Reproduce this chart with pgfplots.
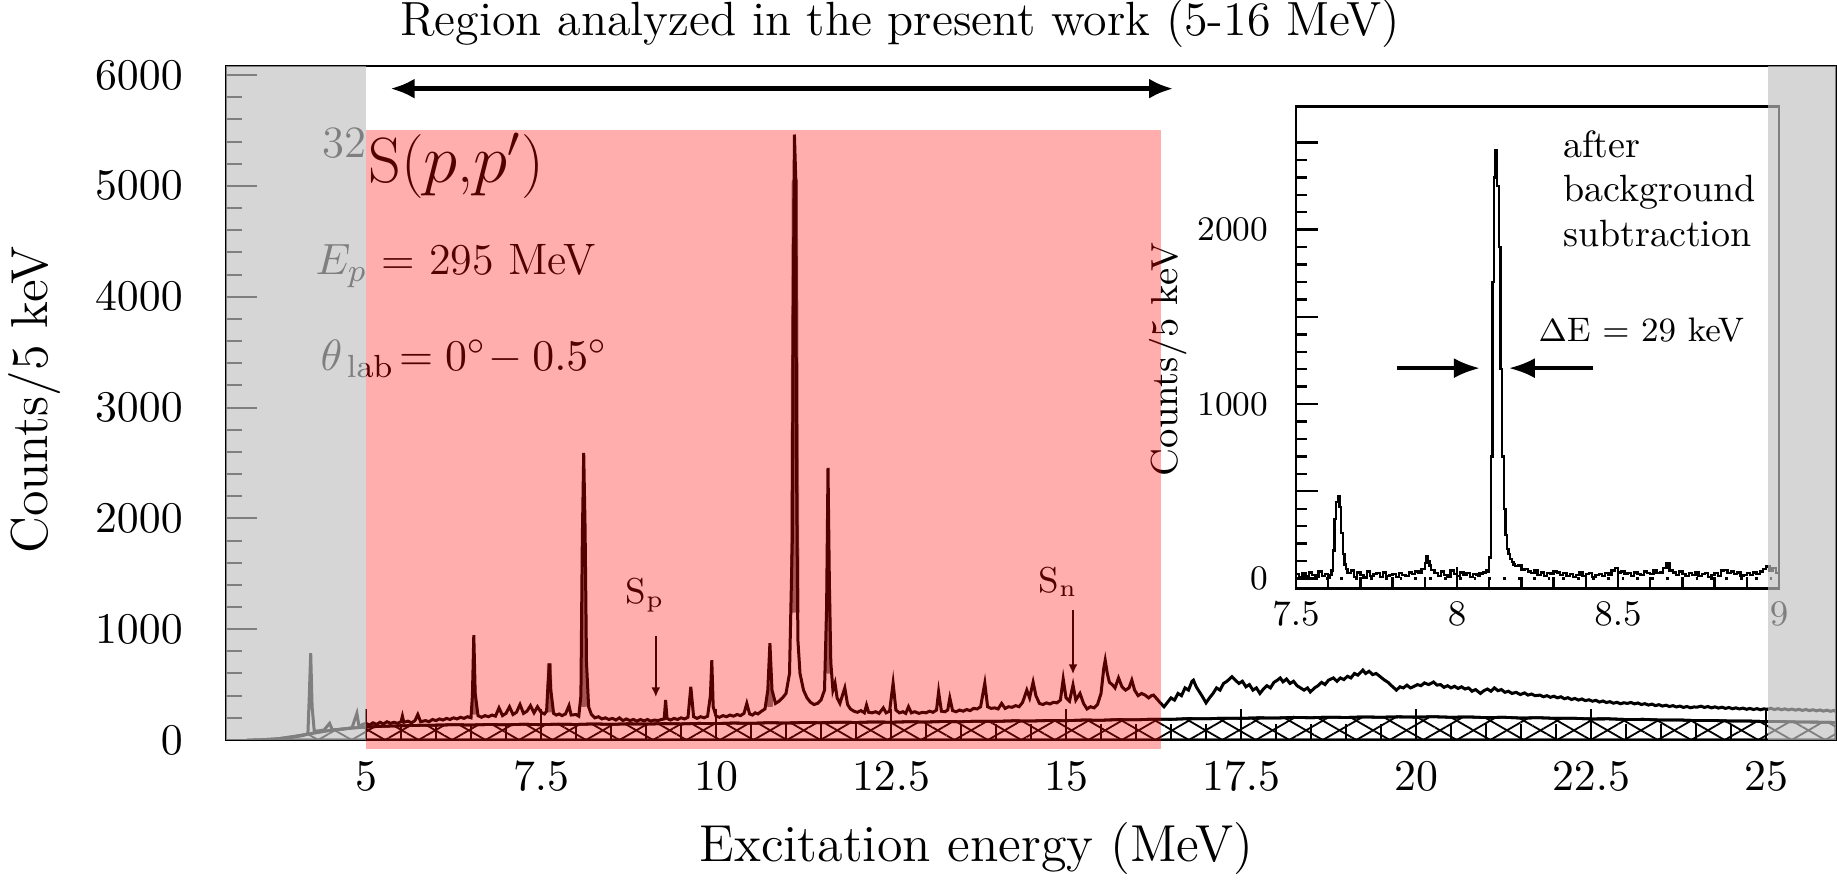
\documentclass[border=0pt]{standalone}
\usepackage{pgfplots}
\pgfplotsset{compat=1.18}
\usetikzlibrary{patterns.meta,arrows.meta}
\definecolor{ovgray}{RGB}{193,193,193}
\definecolor{midgray}{RGB}{125,125,125}
\begin{document}
\begin{tikzpicture}
\begin{axis}[
  at={(0pt,0pt)}, anchor=south west,
  scale only axis, width=402.5pt, height=168.6pt,
  xmin=3, xmax=26, ymin=0, ymax=6085,
  axis line style={line width=0.5pt},
  xtick={5,7.5,10,12.5,15,17.5,20,22.5,25}, minor x tick num=4,
  ytick={0,1000,2000,3000,4000,5000,6000}, minor y tick num=4,
  tick pos=left, tick align=inside,
  major tick length=7.7pt, minor tick length=3.9pt,
  tick style={black, line width=0.5pt},
  xticklabel style={font=\fontsize{11}{13}\selectfont, yshift=-2pt},
  yticklabel style={font=\fontsize{11}{13}\selectfont, xshift=-7.3pt},
  /pgf/number format/1000 sep={},
]
% hatched background
\addplot[draw=black, line width=0.7pt,
  pattern={Lines[angle=30,distance=4.186pt,line width=0.45pt]},
  postaction={pattern={Lines[angle=-30,distance=4.186pt,line width=0.45pt]}}] coordinates {
(3.3,0)(3.5,2)(3.75,12)(4.0,35)(4.25,62)(4.5,88)(4.75,105)(5.0,117)(5.25,124)(5.5,128)(5.75,132)(6.0,134)(6.25,138)(6.5,135)(6.75,140)(7.0,137)(7.25,142)(7.5,138)(7.75,143)(8.0,140)(8.25,145)(8.5,141)(8.75,146)(9.0,143)(9.25,148)(9.5,145)(9.75,150)(10.0,148)(10.25,153)(10.5,150)(10.75,156)(11.0,153)(11.25,158)(11.5,156)(11.75,161)(12.0,158)(12.25,163)(12.5,160)(12.75,165)(13.0,162)(13.25,167)(13.5,165)(13.75,170)(14.0,168)(14.25,173)(14.5,171)(14.75,176)(15.0,174)(15.25,180)(15.5,178)(15.75,184)(16.0,182)(16.25,188)(16.5,186)(16.75,193)(17.0,191)(17.25,197)(17.5,195)(17.75,200)(18.0,198)(18.25,204)(18.5,201)(18.75,206)(19.0,203)(19.25,208)(19.5,205)(19.75,209)(20.0,206)(20.25,210)(20.5,205)(20.75,208)(21.0,202)(21.25,205)(21.5,198)(21.75,201)(22.0,195)(22.25,196)(22.5,190)(22.75,191)(23.0,185)(23.25,186)(23.5,180)(23.75,181)(24.0,175)(24.25,176)(24.5,171)(24.75,171)(25.0,166)(25.25,166)(25.5,162)(25.75,161)(26.0,158)
} \closedcycle;
% coarse (wide) peak bodies
\addplot[midgray, line width=1.2pt] coordinates {(6.53,230)(6.54,480)(6.55,230)};
\addplot[midgray, line width=1.2pt] coordinates {(7.61,250)(7.62,690)(7.63,250)};
\addplot[midgray, line width=1.2pt] coordinates {(8.095,300)(8.11,1700)(8.125,300)};
\addplot[midgray, line width=1.2pt] coordinates {(10.76,300)(10.77,500)(10.78,300)};
\addplot[midgray, line width=1.5pt] coordinates {(11.1,1150)(11.125,5054)(11.15,1150)};
\addplot[midgray, line width=1.2pt] coordinates {(11.59,600)(11.605,1500)(11.62,600)};
% spectrum
\addplot[black, line width=0.75pt] coordinates {
(3.5,0)(3.6,0)(3.7,2)(3.8,8)(3.9,20)(4.0,30)(4.1,40)(4.17,55)(4.19,400)(4.21,784)(4.23,300)(4.26,85)(4.3,80)(4.4,90)(4.48,150)(4.52,90)(4.6,95)(4.7,100)(4.8,110)(4.87,240)(4.9,120)(4.95,140)
(5.0,150)(5.05,135)(5.1,155)(5.15,140)(5.2,160)(5.25,145)(5.3,165)(5.35,150)(5.4,160)(5.45,150)(5.5,165)(5.52,215)(5.54,160)(5.6,170)(5.65,155)(5.7,175)(5.74,230)(5.78,165)(5.85,175)(5.9,165)(5.95,185)(6.0,175)(6.05,190)(6.1,180)(6.15,195)(6.2,185)(6.25,200)(6.3,190)(6.35,205)(6.4,195)(6.45,210)(6.5,200)(6.52,400)(6.54,946)(6.56,420)(6.6,220)(6.65,205)(6.7,220)(6.75,210)(6.8,225)(6.85,215)(6.9,290)(6.95,220)(7.0,240)(7.05,300)(7.1,230)(7.15,250)(7.2,320)(7.25,240)(7.3,260)(7.35,310)(7.4,245)(7.45,300)(7.5,250)(7.55,235)(7.58,260)(7.6,500)(7.62,690)(7.64,450)(7.68,240)(7.72,225)(7.76,235)(7.8,220)(7.85,235)(7.9,310)(7.93,225)(8.0,230)(8.04,215)(8.07,400)(8.09,1800)(8.11,2590)(8.13,1900)(8.15,700)(8.18,300)(8.22,230)(8.27,200)(8.32,210)(8.37,190)(8.42,200)(8.47,185)(8.52,195)(8.57,180)(8.62,200)(8.67,175)(8.72,190)(8.77,175)(8.82,185)(8.87,170)(8.92,185)(8.97,172)(9.02,185)(9.07,170)(9.12,180)(9.17,175)(9.22,185)(9.26,190)(9.28,360)(9.3,195)(9.35,180)(9.4,195)(9.45,185)(9.5,200)(9.55,190)(9.6,205)(9.64,480)(9.68,210)(9.73,195)(9.78,210)(9.83,200)(9.88,215)(9.92,400)(9.94,720)(9.96,300)(10.0,215)(10.05,205)(10.1,220)(10.15,210)(10.2,225)(10.25,215)(10.3,230)(10.35,220)(10.4,240)(10.44,330)(10.48,235)(10.52,225)(10.56,245)(10.6,235)(10.65,260)(10.7,280)(10.74,450)(10.77,874)(10.8,450)(10.85,330)(10.9,350)(10.95,380)(11.0,420)(11.05,600)(11.09,1800)(11.1,3500)(11.12,5463)(11.14,5054)(11.15,2500)(11.17,900)(11.2,600)(11.25,450)(11.3,380)(11.35,340)(11.4,320)(11.45,330)(11.5,360)(11.55,450)(11.58,1200)(11.6,2455)(11.62,1400)(11.64,700)(11.67,450)(11.7,513)(11.73,380)(11.77,330)(11.84,470)(11.88,320)(11.92,280)(11.97,260)(12.02,250)(12.07,265)(12.12,245)(12.15,315)(12.18,250)(12.23,245)(12.28,255)(12.33,240)(12.39,290)(12.43,245)(12.48,260)(12.53,513)(12.57,270)(12.62,245)(12.67,255)(12.71,240)(12.75,300)(12.79,245)(12.84,255)(12.9,240)(12.95,250)(13.0,245)(13.05,260)(13.1,250)(13.15,270)(13.18,435)(13.22,260)(13.27,255)(13.31,270)(13.34,380)(13.38,265)(13.43,255)(13.48,270)(13.53,260)(13.58,275)(13.63,265)(13.68,285)(13.73,280)(13.78,300)(13.84,513)(13.88,300)(13.93,285)(13.98,290)(14.03,280)(14.08,330)(14.13,285)(14.18,300)(14.23,295)(14.28,310)(14.33,300)(14.38,340)(14.44,450)(14.48,380)(14.53,522)(14.57,400)(14.62,330)(14.67,320)(14.72,335)(14.77,325)(14.82,340)(14.87,335)(14.92,360)(14.96,550)(15.0,380)(15.05,350)(15.1,496)(15.14,360)(15.2,420)(15.25,330)(15.3,280)(15.35,300)(15.4,290)(15.45,320)(15.5,420)(15.54,650)(15.56,720)(15.59,600)(15.62,520)(15.66,500)(15.7,470)(15.75,560)(15.8,480)(15.85,450)(15.9,470)(15.94,540)(15.98,450)(16.03,400)(16.08,420)(16.13,405)(16.18,380)(16.22,400)(16.25,405)(16.3,370)(16.34,340)
(16.4,300)(16.45,340)(16.5,380)(16.55,360)(16.6,420)(16.65,400)(16.7,470)(16.75,450)(16.8,530)(16.82,540)(16.86,480)(16.9,440)(16.95,390)(17.0,335)(17.05,380)(17.1,420)(17.15,470)(17.2,450)(17.25,510)(17.3,530)(17.37,571)(17.42,540)(17.47,510)(17.52,530)(17.57,480)(17.62,500)(17.67,450)(17.72,470)(17.77,420)(17.82,460)(17.87,490)(17.92,470)(17.97,520)(18.02,540)(18.06,560)(18.1,525)(18.15,550)(18.2,510)(18.25,530)(18.3,490)(18.35,470)(18.4,450)(18.45,470)(18.49,433)(18.55,470)(18.6,490)(18.65,520)(18.7,500)(18.75,540)(18.82,560)(18.87,530)(18.92,560)(18.97,545)(19.02,575)(19.07,560)(19.12,600)(19.17,585)(19.24,631)(19.28,600)(19.33,620)(19.38,590)(19.43,600)(19.49,571)(19.54,545)(19.6,520)(19.65,490)(19.72,450)(19.77,480)(19.82,470)(19.87,495)(19.92,470)(19.96,480)(20.02,500)(20.07,490)(20.12,515)(20.18,500)(20.25,523)(20.3,495)(20.35,500)(20.4,475)(20.45,490)(20.5,470)(20.55,485)(20.6,465)(20.65,480)(20.7,460)(20.75,470)(20.8,440)(20.85,455)(20.92,420)(20.97,445)(21.02,460)(21.07,440)(21.12,470)(21.17,445)(21.22,455)(21.27,430)(21.32,440)(21.37,420)(21.43,430)(21.49,410)(21.55,425)(21.6,405)(21.65,415)(21.7,400)(21.77,405)(21.82,390)(21.87,400)(21.92,385)(21.97,395)(22.02,380)(22.07,390)(22.12,372)(22.17,382)(22.22,365)(22.27,375)(22.32,360)(22.37,370)(22.42,355)(22.47,363)(22.52,350)(22.57,358)(22.62,342)(22.67,352)(22.72,338)(22.77,346)(22.82,332)(22.87,340)(22.92,327)(22.97,336)(23.02,330)(23.07,339)(23.12,326)(23.17,334)(23.22,320)(23.27,328)(23.32,315)(23.37,324)(23.42,310)(23.47,319)(23.52,306)(23.57,314)(23.62,302)(23.67,310)(23.72,298)(23.77,306)(23.82,294)(23.87,302)(23.92,291)(23.97,298)(24.02,297)(24.07,305)(24.12,294)(24.17,302)(24.22,290)(24.27,299)(24.32,288)(24.37,296)(24.42,285)(24.47,293)(24.52,282)(24.57,290)(24.62,280)(24.67,288)(24.72,277)(24.77,285)(24.82,275)(24.87,283)(24.92,273)(24.97,281)(25.02,277)(25.07,286)(25.12,275)(25.17,283)(25.22,273)(25.27,281)(25.32,271)(25.37,279)(25.42,269)(25.47,277)(25.52,267)(25.57,275)(25.62,265)(25.67,273)(25.72,263)(25.77,271)(25.82,261)(25.87,269)(25.92,259)(25.97,267)(26.0,256)
};
% annotations
\node[anchor=base west, font=\fontsize{16}{18}\selectfont, inner sep=0pt] at (axis cs:4.37,5026) {\textsuperscript{32}S($p$,$p'$)};
\node[anchor=base west, font=\fontsize{11}{13}\selectfont, inner sep=0pt] at (axis cs:4.27,4196) {$E_p$ = 295 MeV};
\node[anchor=base west, font=\fontsize{11}{13}\selectfont, inner sep=0pt] at (axis cs:4.34,3338) {$\theta_{\,\mathrm{lab}}\!= 0^{\circ}\!-0.5^{\circ}$};
\node[anchor=base, font=\fontsize{9}{10}\selectfont, inner sep=0pt] at (axis cs:8.99,1236) {S$_{\mathrm{p}}$};
\node[anchor=base, font=\fontsize{9}{10}\selectfont, inner sep=0pt] at (axis cs:14.89,1335) {S$_{\mathrm{n}}$};
\draw[-{Latex[length=2.4pt,width=2.2pt]}, line width=0.4pt] (axis cs:9.14,938) -- (axis cs:9.14,388);
\draw[-{Latex[length=2.4pt,width=2.2pt]}, line width=0.4pt] (axis cs:15.1,1173) -- (axis cs:15.1,595);
\draw[{Latex[length=6pt,width=5pt]}-{Latex[length=6pt,width=5pt]}, line width=1.1pt] (axis cs:5.35,5877) -- (axis cs:16.53,5877);
\coordinate (gL1) at (axis cs:3,0);
\coordinate (gL2) at (axis cs:5,6085);
\coordinate (gR1) at (axis cs:25.03,0);
\coordinate (gR2) at (axis cs:26,6085);
\coordinate (rd1) at (axis cs:5,-80);
\coordinate (rd2) at (axis cs:16.36,5504);
\end{axis}
% inset
\begin{axis}[
  at={(267.5pt,37.85pt)}, anchor=south west,
  scale only axis, width=120.75pt, height=120.6pt,
  xmin=7.5, xmax=9, ymin=-58, ymax=2708,
  axis line style={line width=0.7pt},
  xtick={7.5,8,8.5,9}, minor x tick num=4,
  ytick={0,500,1000,1500,2000,2500}, yticklabels={0,,1000,,2000,}, minor y tick num=4,
  tick pos=left, tick align=inside,
  major tick length=5.5pt, minor tick length=2.8pt,
  tick style={black, line width=0.6pt},
  ticklabel style={font=\fontsize{8.6}{10}\selectfont},
  yticklabel style={xshift=-3.4pt},
]
\addplot[black, line width=0.6pt, dash pattern=on 0.7pt off 3pt] coordinates {(7.5,0)(9,0)};
\addplot[const plot, black, line width=0.6pt] coordinates {
(7.50,25)(7.51,10)(7.52,30)(7.53,15)(7.54,35)(7.55,20)(7.56,10)(7.57,40)(7.58,15)(7.59,25)(7.60,5)(7.605,20)(7.610,45)(7.615,160)(7.620,340)(7.625,440)(7.630,474)(7.635,410)(7.640,260)(7.645,140)(7.650,80)(7.655,55)(7.66,30)(7.67,45)(7.68,10)(7.69,35)(7.70,20)(7.71,5)(7.72,40)(7.73,15)(7.74,25)(7.75,30)(7.76,10)(7.77,35)(7.78,15)(7.79,20)(7.80,25)(7.81,10)(7.82,30)(7.83,20)(7.84,15)(7.85,35)(7.86,25)(7.87,40)(7.88,30)(7.89,55)(7.90,90)(7.905,127)(7.91,100)(7.915,75)(7.92,50)(7.93,30)(7.94,15)(7.95,40)(7.96,20)(7.97,10)(7.98,45)(7.99,25)(8.00,15)(8.01,35)(8.02,20)(8.03,30)(8.04,10)(8.05,25)(8.06,20)(8.065,15)(8.07,30)(8.075,25)(8.08,35)(8.085,30)(8.09,45)(8.095,40)(8.100,120)(8.105,700)(8.110,1700)(8.115,2300)(8.120,2454)(8.125,2250)(8.130,1900)(8.135,1200)(8.140,700)(8.145,400)(8.150,250)(8.155,170)(8.160,140)(8.165,110)(8.170,95)(8.175,80)(8.18,70)(8.19,75)(8.20,50)(8.21,55)(8.22,40)(8.23,30)(8.24,45)(8.25,20)(8.26,35)(8.27,15)(8.28,30)(8.29,25)(8.30,40)(8.31,35)(8.32,20)(8.33,30)(8.34,15)(8.35,25)(8.36,10)(8.37,20)(8.38,35)(8.39,15)(8.40,25)(8.41,30)(8.42,10)(8.43,20)(8.44,25)(8.45,15)(8.46,30)(8.47,20)(8.48,45)(8.49,60)(8.50,35)(8.51,40)(8.52,25)(8.53,30)(8.54,15)(8.55,35)(8.56,25)(8.57,20)(8.58,40)(8.59,30)(8.60,25)(8.61,45)(8.62,30)(8.63,35)(8.64,60)(8.65,90)(8.66,45)(8.67,35)(8.68,20)(8.69,40)(8.70,25)(8.71,15)(8.72,30)(8.73,20)(8.74,35)(8.75,15)(8.76,25)(8.77,30)(8.78,10)(8.79,20)(8.80,30)(8.81,15)(8.82,45)(8.83,50)(8.84,30)(8.85,40)(8.86,25)(8.87,35)(8.88,15)(8.89,20)(8.90,30)(8.91,20)(8.92,35)(8.93,25)(8.94,40)(8.95,55)(8.96,68)(8.97,45)(8.98,60)(8.99,30)(9.00,40)
};
\draw[-{Latex[length=6.5pt,width=5pt]}, line width=0.9pt] (axis cs:7.814,1206) -- (axis cs:8.071,1206);
\draw[-{Latex[length=6.5pt,width=5pt]}, line width=0.9pt] (axis cs:8.422,1206) -- (axis cs:8.161,1206);
\end{axis}
% labels and texts
\node[rotate=90, font=\fontsize{13}{15}\selectfont] at (-47.75pt,85pt) {Counts/5 keV};
\node[anchor=base, font=\fontsize{13}{15}\selectfont] at (187.6pt,-30.5pt) {Excitation energy (MeV)};
\node[anchor=base, font=\fontsize{12}{14}\selectfont] at (168.5pt,176pt) {Region analyzed in the present work (5-16 MeV)};
\node[rotate=90, font=\fontsize{9.4}{11}\selectfont] at (235.5pt,95.1pt) {Counts/5 keV};
\node[anchor=base west, font=\fontsize{9.5}{11}\selectfont, inner sep=0pt] at (334.1pt,145.6pt) {after};
\node[anchor=base west, font=\fontsize{9.5}{11}\selectfont, inner sep=0pt] at (334.1pt,134.6pt) {background};
\node[anchor=base west, font=\fontsize{9.5}{11}\selectfont, inner sep=0pt] at (334.1pt,123.25pt) {subtraction};
\node[anchor=base west, font=\fontsize{8.5}{10}\selectfont, inner sep=0pt] at (327.95pt,99.5pt) {$\Delta$E = 29 keV};
% overlays
\fill[ovgray, fill opacity=0.663] (gL1) rectangle (gL2);
\fill[ovgray, fill opacity=0.663] (gR1) rectangle (gR2);
\fill[red, fill opacity=0.32] (rd1) rectangle (rd2);
\pgfresetboundingbox
\useasboundingbox (-56.5pt,-36.25pt) rectangle (402.75pt,185pt);
\end{tikzpicture}
\end{document}
